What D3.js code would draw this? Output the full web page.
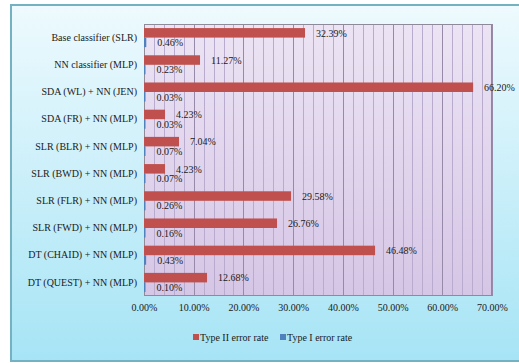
<!DOCTYPE html>
<html><head><meta charset="utf-8">
<script src="https://cdn.jsdelivr.net/npm/d3@7"></script>
<style>html,body{margin:0;padding:0;background:#fff;}svg{display:block;}</style>
</head><body>
<svg id="chart" width="519" height="363"></svg>
<script>
const categories = ["Base classifier (SLR)","NN classifier (MLP)","SDA (WL) + NN (JEN)","SDA (FR) + NN (MLP)","SLR (BLR) + NN (MLP)","SLR (BWD) + NN (MLP)","SLR (FLR) + NN (MLP)","SLR (FWD) + NN (MLP)","DT (CHAID) + NN (MLP)","DT (QUEST) + NN (MLP)"];
const typeII = [32.39, 11.27, 66.20, 4.23, 7.04, 4.23, 29.58, 26.76, 46.48, 12.68];
const typeI = [0.46, 0.23, 0.03, 0.03, 0.07, 0.07, 0.26, 0.16, 0.43, 0.10];
const seriesNames = ["Type II error rate", "Type I error rate"];
const seriesColors = ["#c0504d", "#4f81bd"];
const xTicks = [0, 10, 20, 30, 40, 50, 60, 70];

const svg = d3.select("#chart");
const defs = svg.append("defs");
const bg = defs.append("linearGradient").attr("id","bg").attr("x1",0).attr("y1",0).attr("x2",0).attr("y2",1);
bg.append("stop").attr("offset","0%").attr("stop-color","#eefafe");
bg.append("stop").attr("offset","100%").attr("stop-color","#a6e4f5");
const pg = defs.append("linearGradient").attr("id","pg").attr("x1",0).attr("y1",0).attr("x2",0).attr("y2",1);
pg.append("stop").attr("offset","0%").attr("stop-color","#ece4f4");
pg.append("stop").attr("offset","100%").attr("stop-color","#d6c6e6");

svg.append("rect").attr("x",0).attr("y",0).attr("width",519).attr("height",363).attr("fill","#ffffff");
svg.append("rect").attr("x",11).attr("y",5).attr("width",520).attr("height",356)
  .attr("fill","url(#bg)").attr("stroke","#74b2c2").attr("stroke-width",2);

const pLeft = 144, pRight = 492, pTop = 24, pBottom = 296;
const x = d3.scaleLinear().domain([0, 70]).range([pLeft, pRight]);
const y = d3.scaleBand().domain(categories).range([pTop, pBottom]).paddingInner(0.3).paddingOuter(0.15);
const sub = d3.scaleBand().domain(seriesNames).range([0, y.bandwidth()]);

// plot area
svg.append("rect").attr("x",pLeft).attr("y",pTop).attr("width",pRight-pLeft).attr("height",pBottom-pTop)
  .attr("fill","url(#pg)");

// minor gridlines
const minor = d3.range(2, 70, 2).filter(v => v % 10 !== 0);
svg.append("g").selectAll("line").data(minor).join("line")
  .attr("x1", d => Math.round(x(d))+0.5).attr("x2", d => Math.round(x(d))+0.5)
  .attr("y1", pTop).attr("y2", pBottom).attr("stroke","#b9abcd").attr("stroke-width",1);
// major gridlines
svg.append("g").selectAll("line").data(xTicks.slice(1)).join("line")
  .attr("x1", d => Math.round(x(d))+0.5).attr("x2", d => Math.round(x(d))+0.5)
  .attr("y1", pTop).attr("y2", pBottom).attr("stroke","#978aa8").attr("stroke-width",1);

svg.append("rect").attr("x",pLeft+0.5).attr("y",pTop+0.5).attr("width",pRight-pLeft-1).attr("height",pBottom-pTop-1)
  .attr("fill","none").attr("stroke","#8f8a98").attr("stroke-width",1);

// x axis
const xAxis = d3.axisBottom(x).tickValues(xTicks).tickSize(0).tickPadding(8)
  .tickFormat(d => d.toFixed(2) + "%");
const gx = svg.append("g").attr("transform", `translate(0,${pBottom})`).call(xAxis);
gx.select(".domain").remove();
gx.selectAll("text").attr("font-family","Liberation Serif").attr("font-size","10px").attr("fill","#1a1a1a");

// y axis
const yAxis = d3.axisLeft(y).tickSize(0).tickPadding(7);
const gy = svg.append("g").attr("transform", `translate(${pLeft},0)`).call(yAxis);
gy.select(".domain").remove();
gy.selectAll("text").attr("font-family","Liberation Serif").attr("font-size","10px").attr("fill","#1a1a1a");

// bars
const rows = categories.map((c, i) => ({c, vals: [typeII[i], typeI[i]]}));
const groups = svg.append("g").selectAll("g").data(rows).join("g")
  .attr("transform", d => `translate(0,${y(d.c)})`);
groups.selectAll("rect").data(d => d.vals.map((v, j) => ({v, j}))).join("rect")
  .attr("x", x(0)).attr("y", d => sub(seriesNames[d.j]))
  .attr("width", d => Math.max(x(d.v) - x(0), 1.5)).attr("height", sub.bandwidth())
  .attr("fill", d => seriesColors[d.j]);
groups.selectAll("text").data(d => d.vals.map((v, j) => ({v, j}))).join("text")
  .attr("x", d => Math.max(x(d.v), x(0) + 1.5) + 11)
  .attr("y", d => sub(seriesNames[d.j]) + sub.bandwidth()/2 + 3.8)
  .attr("font-family","Liberation Serif").attr("font-size","10px").attr("fill","#1a1a1a")
  .text(d => d.v.toFixed(2) + "%");

// legend
const legendX = [193, 280];
const lg = svg.append("g").selectAll("g").data(seriesNames).join("g")
  .attr("transform", (d, i) => `translate(${legendX[i]},337)`);
lg.append("rect").attr("x",0).attr("y",-3).attr("width",6).attr("height",6).attr("fill",(d,i)=>seriesColors[i]);
lg.append("text").attr("x",7).attr("y",3.5).attr("font-family","Liberation Serif").attr("font-size","10px")
  .attr("fill","#1a1a1a").text(d => d);
</script>
</body></html>
